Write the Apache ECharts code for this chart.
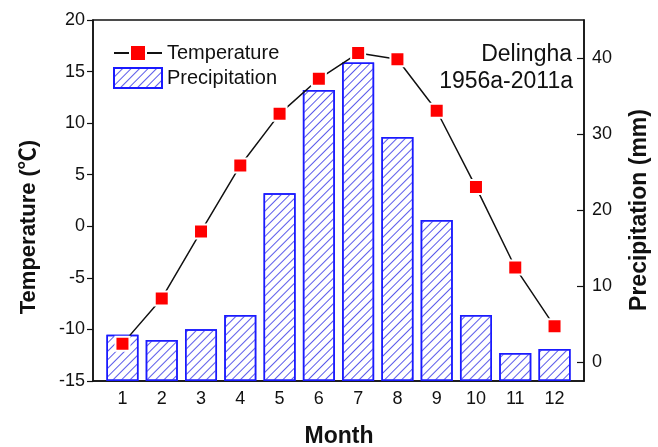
<!DOCTYPE html>
<html>
<head>
<meta charset="utf-8">
<script src="https://cdn.jsdelivr.net/npm/echarts@6/dist/echarts.min.js"></script>
<style>
  html, body { margin: 0; padding: 0; background: #fff; }
  #chart { width: 658px; height: 447px; }
</style>
</head>
<body>
<div id="chart"></div>
<script>
// Monthly climate normals, Delingha station
const months = [1, 2, 3, 4, 5, 6, 7, 8, 9, 10, 11, 12];
const temperature = [-11.4, -7.0, -0.5, 5.9, 10.9, 14.3, 16.8, 16.2, 11.2, 3.8, -4.0, -9.7];
const precipitation = [3.6, 2.9, 4.3, 6.2, 22.2, 35.8, 39.4, 29.6, 18.7, 6.2, 1.2, 1.7];
const tempTicks = [-15, -10, -5, 0, 5, 10, 15, 20];
const precipTicks = [0, 10, 20, 30, 40];

const FONT = 'Liberation Sans, Arial, Helvetica, "Noto Sans CJK SC", sans-serif';
const INK = '#111';

const chart = echarts.init(document.getElementById('chart'), null, { renderer: 'canvas' });

chart.setOption({
  backgroundColor: '#fff',
  animation: false,
  textStyle: { fontFamily: FONT },
  grid: {
    left: 93, right: 74, top: 20, bottom: 66,
    outerBoundsMode: 'none',
    containLabel: false,
    show: true, borderColor: INK, borderWidth: 1.5, backgroundColor: 'transparent'
  },
  legend: {
    orient: 'vertical',
    left: 113, top: 43, padding: 0,
    itemWidth: 48, itemHeight: 20, itemGap: 4,
    textStyle: { fontFamily: FONT, fontSize: 20, color: INK },
    data: [
      { name: 'Temperature' },
      { name: 'Precipitation', icon: 'rect' }
    ]
  },
  xAxis: {
    type: 'value',
    min: 0.25, max: 12.75,
    axisLine: { show: true, onZero: false, lineStyle: { color: INK, width: 1.5 } },
    axisTick: { show: true, inside: true, length: 7, customValues: months, lineStyle: { color: INK, width: 1.2 } },
    axisLabel: { customValues: months, fontSize: 18, color: INK, margin: 9 },
    splitLine: { show: false }
  },
  yAxis: [
    {
      type: 'value',
      min: -15, max: 20, interval: 5,
      position: 'left',
      axisLine: { show: true, onZero: false, lineStyle: { color: INK, width: 1.5 } },
      axisTick: { show: true, inside: false, length: 6, customValues: tempTicks, lineStyle: { color: INK, width: 1.2 } },
      axisLabel: { customValues: tempTicks, fontSize: 18, color: INK, margin: 8 },
      splitLine: { show: false }
    },
    {
      type: 'value',
      min: -2.5, max: 45,
      startValue: -2.5,
      position: 'right',
      axisLine: { show: true, onZero: false, lineStyle: { color: INK, width: 1.5 } },
      axisTick: { show: true, inside: true, length: 7, customValues: precipTicks, lineStyle: { color: INK, width: 1.2 } },
      axisLabel: { customValues: precipTicks, fontSize: 18, color: INK, margin: 8 },
      splitLine: { show: false }
    }
  ],
  graphic: [
    // station label, top-right corner of the plot
    { type: 'text', x: 572, y: 55, style: { text: 'Delingha', align: 'right', verticalAlign: 'middle', font: '23px ' + FONT, fill: INK } },
    { type: 'text', x: 573, y: 82, style: { text: '1956a-2011a', align: 'right', verticalAlign: 'middle', font: '23px ' + FONT, fill: INK } },
    // axis titles
    { type: 'text', x: 339, y: 437, style: { text: 'Month', align: 'center', verticalAlign: 'middle', font: 'bold 23px ' + FONT, fill: INK } },
    { type: 'text', x: 29, y: 227, rotation: Math.PI / 2, style: { text: 'Temperature (℃)', align: 'center', verticalAlign: 'middle', font: 'bold 22px ' + FONT, fill: INK } },
    { type: 'text', x: 640, y: 210, rotation: Math.PI / 2, style: { text: 'Precipitation (mm)', align: 'center', verticalAlign: 'middle', font: 'bold 23px ' + FONT, fill: INK } }
  ],
  series: [
    {
      name: 'Precipitation',
      type: 'bar',
      yAxisIndex: 1,
      barWidth: 32,
      data: months.map((m, i) => [m, precipitation[i]]),
      itemStyle: {
        color: '#ffffff',
        borderColor: '#1a1aff',
        borderWidth: 1.5,
        decal: {
          symbol: 'rect',
          color: '#5a5aea',
          dashArrayX: [1, 0],
          dashArrayY: [1, 5],
          symbolSize: 1,
          rotation: -Math.PI / 4
        }
      },
      z: 1
    },
    {
      name: 'Temperature',
      type: 'line',
      yAxisIndex: 0,
      data: months.map((m, i) => [m, temperature[i]]),
      symbol: 'rect',
      symbolSize: 14,
      lineStyle: { color: '#111', width: 1.5 },
      itemStyle: { color: '#ff0000', borderColor: '#ffffff', borderWidth: 2 },
      z: 3
    }
  ]
});
</script>
</body>
</html>
